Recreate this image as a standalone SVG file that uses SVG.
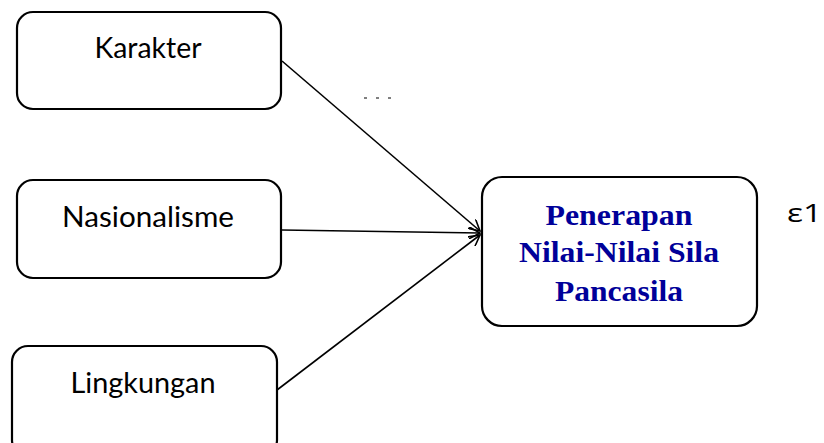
<svg xmlns="http://www.w3.org/2000/svg" width="824" height="443" viewBox="0 0 824 443">
<style>
.box{fill:#fff;stroke:#000;stroke-width:2.2}
.lbl{font-family:Lato,"Open Sans",sans-serif;font-size:28px;fill:#000;text-anchor:middle}
.tgt{font-family:"Liberation Serif","Times New Roman",serif;font-weight:bold;font-size:30px;fill:#000099;text-anchor:middle}
.con{stroke:#000;stroke-width:1.6;fill:none;marker-end:url(#arr)}
</style>
<defs>
<marker id="arr" viewBox="0 0 12 12" refX="11" refY="6" markerWidth="12" markerHeight="12" markerUnits="userSpaceOnUse" orient="auto">
<path d="M0,0 L11,6 L0,12" fill="none" stroke="#000" stroke-width="1.6"/>
</marker>
</defs>
<rect width="824" height="443" fill="#fff"/>
<g id="connectors">
<line class="con" x1="282" y1="61" x2="480" y2="231"/>
<line class="con" x1="282" y1="230" x2="480" y2="233"/>
<line class="con" x1="277" y1="390" x2="480" y2="235"/>
</g>
<g id="karakter">
<rect class="box" x="17" y="12" width="264" height="97" rx="16"/>
<text class="lbl" x="148" y="58" textLength="107" lengthAdjust="spacingAndGlyphs">Karakter</text>
</g>
<g id="nasionalisme">
<rect class="box" x="17" y="180" width="264" height="98" rx="16"/>
<text class="lbl" x="148" y="227" textLength="172" lengthAdjust="spacingAndGlyphs">Nasionalisme</text>
</g>
<g id="lingkungan">
<rect class="box" x="12" y="346" width="265" height="110" rx="16"/>
<text class="lbl" x="143" y="393" textLength="145" lengthAdjust="spacingAndGlyphs">Lingkungan</text>
</g>
<g id="penerapan">
<rect class="box" x="482" y="177" width="275" height="149" rx="20"/>
<text class="tgt" x="619" y="225" textLength="147" lengthAdjust="spacingAndGlyphs">Penerapan</text>
<text class="tgt" x="619" y="262" textLength="200" lengthAdjust="spacingAndGlyphs">Nilai-Nilai Sila</text>
<text class="tgt" x="619" y="301" textLength="128" lengthAdjust="spacingAndGlyphs">Pancasila</text>
</g>
<g id="epsilon">
<text x="787" y="222" textLength="35" lengthAdjust="spacingAndGlyphs" style="font-family:'Open Sans','DejaVu Sans',sans-serif;font-size:26px;fill:#000">ε1</text>
</g>
<g id="dots" stroke="#000" stroke-width="1">
<line x1="364" y1="98" x2="367" y2="98"/>
<line x1="376" y1="98" x2="379" y2="98"/>
<line x1="388" y1="98" x2="391" y2="98"/>
</g>
</svg>
